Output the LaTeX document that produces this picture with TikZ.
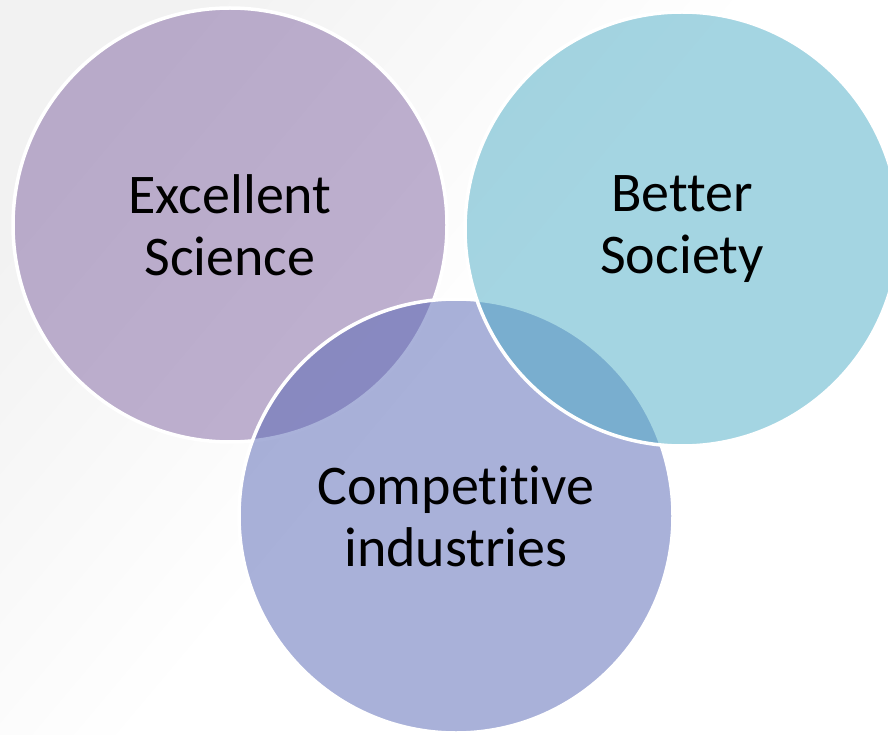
\documentclass[tikz,border=0pt]{standalone}
\usepackage{fontspec}
\setmainfont{Carlito}[Ligatures={NoCommon}]
\definecolor{sciencepurple}{RGB}{128,100,162}
\definecolor{societyaqua}{RGB}{75,172,198}
\definecolor{industryblue}{RGB}{84,100,180}
\pgfdeclarehorizontalshading{bgfade}{100bp}{color(0bp)=(black!5); color(25bp)=(black!5); color(50bp)=(white); color(100bp)=(white)}
\begin{document}
\begin{tikzpicture}[x=1pt,y=-1pt,
    bubble/.style={circle, minimum size=434pt, inner sep=0pt, draw=white, line width=3.5pt,
      fill opacity=0.5, text opacity=1, align=center, font=\fontsize{56}{62}\selectfont}]
    \useasboundingbox (0,0) rectangle (888,735);
    \clip (0,0) rectangle (888,735);
    % faint grey backdrop
    \shade[shading=bgfade, shading angle=-40] (0,0) rectangle (888,735);

    \node[bubble, fill=sciencepurple] (science) at (230,225) {Excellent\\Science};
    \node[bubble, fill=industryblue] (industries) at (456,516) {Competitive\\industries};
    \node[bubble, fill=societyaqua] (society) at (682,229) {Better\\Society};
  \end{tikzpicture}
\end{document}
